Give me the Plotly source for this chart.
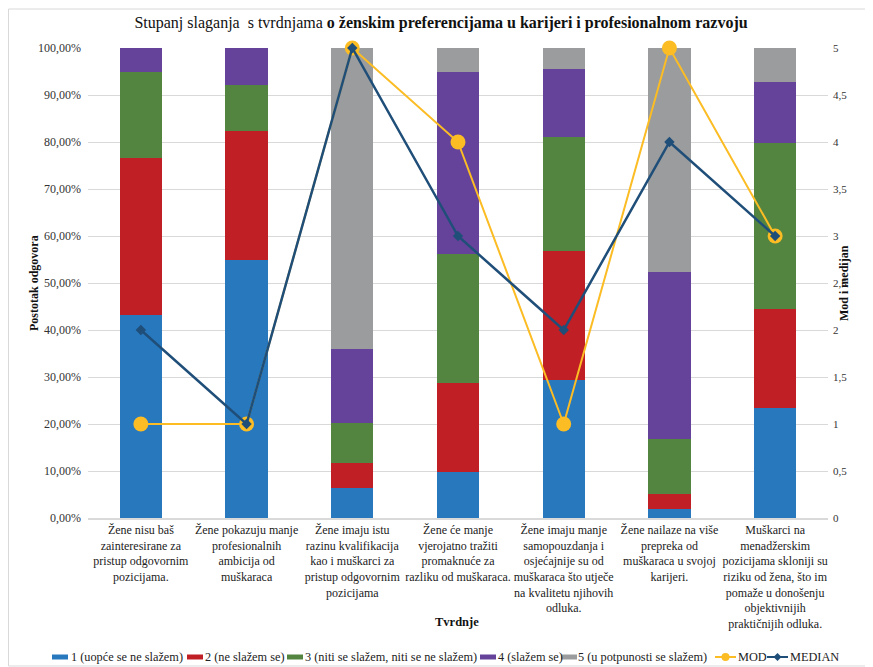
import plotly.graph_objects as go

categories = [
    "Žene nisu baš<br>zainteresirane za<br>pristup odgovornim<br>pozicijama.",
    "Žene pokazuju manje<br>profesionalnih<br>ambicija od<br>muškaraca",
    "Žene imaju istu<br>razinu kvalifikacija<br>kao i muškarci za<br>pristup odgovornim<br>pozicijama",
    "Žene će manje<br>vjerojatno tražiti<br>promaknuće za<br>razliku od muškaraca.",
    "Žene imaju manje<br>samopouzdanja i<br>osjećajnije su od<br>muškaraca što utječe<br>na kvalitetu njihovih<br>odluka.",
    "Žene nailaze na više<br>prepreka od<br>muškaraca u svojoj<br>karijeri.",
    "Muškarci na<br>menadžerskim<br>pozicijama skloniji su<br>riziku od žena, što im<br>pomaže u donošenju<br>objektivnijih<br>praktičnijih odluka.",
]

# percentages per answer level
level1 = [43.1, 54.9, 6.4, 9.7, 29.4, 1.9, 23.5]
level2 = [33.4, 27.4, 5.3, 19.1, 27.4, 3.3, 20.9]
level3 = [18.3, 9.9, 8.5, 27.4, 24.3, 11.7, 35.3]
level4 = [5.2, 7.8, 15.7, 38.6, 14.4, 35.4, 13.1]
level5 = [0.0, 0.0, 64.1, 5.2, 4.5, 47.7, 7.2]

mod = [1, 1, 5, 4, 1, 5, 3]
median = [2, 1, 5, 3, 2, 4, 3]

level_names = [
    "1 (uopće se ne slažem)",
    "2 (ne slažem se)",
    "3 (niti se slažem, niti se ne slažem)",
    "4 (slažem se)",
    "5 (u potpunosti se slažem)",
]
level_colors = ["#2878BD", "#C01F25", "#538540", "#65439A", "#9A9C9D"]
MOD_COLOR = "#FBBC24"
MED_COLOR = "#1F4E79"

FONT = "Liberation Serif, Times New Roman, serif"

# the page body adds an 8px offset, so the figure is drawn 8px smaller
OFF = 8
W, H = 873 - OFF, 667 - OFF
L, R, T, B = 88 - OFF, 45, 48 - OFF, 149
PW, PH = W - L - R, H - T - B


def px_x(px):
    # screen pixel -> paper coordinate
    return (px - OFF - L) / PW


def px_y(py):
    return (H - B - (py - OFF)) / PH


fig = go.Figure()
for name, vals, col in zip(level_names, [level1, level2, level3, level4, level5], level_colors):
    fig.add_trace(go.Bar(x=categories, y=vals, name=name, marker=dict(color=col, line=dict(width=0)),
                         width=0.4))

fig.add_trace(go.Scatter(x=categories, y=mod, name="MOD", yaxis="y2", mode="lines+markers",
                         line=dict(color=MOD_COLOR, width=2), cliponaxis=False,
                         marker=dict(symbol="circle", size=15, color=MOD_COLOR)))
fig.add_trace(go.Scatter(x=categories, y=median, name="MEDIAN", yaxis="y2", mode="lines+markers",
                         line=dict(color=MED_COLOR, width=2.5), cliponaxis=False,
                         marker=dict(symbol="diamond", size=8, color=MED_COLOR)))

# legend drawn by hand so it stays on a single compact row
leg_y = px_y(657)
LEG_FONT = dict(family=FONT, size=12.3, color="#222222")
swatch_x = [52, 187, 287, 480, 561]
text_x = [69, 203, 303, 496, 576]
shapes = []
annotations = []
for sx, tx, name, col in zip(swatch_x, text_x, level_names, level_colors):
    shapes.append(dict(type="rect", xref="paper", yref="paper", x0=px_x(sx), x1=px_x(sx + 16),
                       y0=leg_y - 2.5 / PH, y1=leg_y + 2.5 / PH, fillcolor=col, line=dict(width=0)))
    annotations.append(dict(text=name, xref="paper", yref="paper", x=px_x(tx), y=leg_y,
                            xanchor="left", yanchor="middle", showarrow=False, font=LEG_FONT))

for sx, name, col, sym in [(715, "MOD", MOD_COLOR, "circle"), (767, "MEDIAN", MED_COLOR, "diamond")]:
    shapes.append(dict(type="line", xref="paper", yref="paper", x0=px_x(sx), x1=px_x(sx + 21),
                       y0=leg_y, y1=leg_y, line=dict(color=col, width=2)))
    cx, cy = px_x(sx + 10.5), leg_y
    if sym == "circle":
        shapes.append(dict(type="circle", xref="paper", yref="paper", xsizemode="pixel", ysizemode="pixel",
                           xanchor=cx, yanchor=cy, x0=-4, x1=4, y0=-4, y1=4,
                           fillcolor=col, line=dict(width=0)))
    else:
        shapes.append(dict(type="path", xref="paper", yref="paper", xsizemode="pixel", ysizemode="pixel",
                           xanchor=cx, yanchor=cy, path="M -4 0 L 0 4 L 4 0 L 0 -4 Z",
                           fillcolor=col, line=dict(width=0)))
    annotations.append(dict(text=name, xref="paper", yref="paper", x=px_x(sx + 21), y=leg_y,
                            xanchor="left", yanchor="middle", showarrow=False, font=LEG_FONT))

annotations += [
    dict(text="<b>Tvrdnje</b>", xref="paper", yref="paper", x=px_x(457), y=px_y(631),
         showarrow=False, font=dict(family=FONT, size=12.5, color="#111111")),
    dict(text="<b>Postotak odgovora</b>", xref="paper", yref="paper", x=px_x(25), y=px_y(283),
         textangle=-90, showarrow=False, font=dict(family=FONT, size=12, color="#111111")),
    dict(text="<b>Mod i medijan</b>", xref="paper", yref="paper", x=px_x(853), y=px_y(283),
         textangle=-90, showarrow=False, font=dict(family=FONT, size=12, color="#111111")),
]

shapes.append(dict(type="rect", xref="paper", yref="paper", x0=px_x(8.5), x1=px_x(870),
                   y0=px_y(666), y1=px_y(9), line=dict(color="#D9D9D9", width=1), layer="below"))

fig.update_layout(
    barmode="stack",
    width=W, height=H,
    margin=dict(l=L, r=R, t=T, b=B),
    paper_bgcolor="white", plot_bgcolor="white",
    separators=",.",
    showlegend=False,
    font=dict(family=FONT, size=12, color="#222222"),
    title=dict(text="Stupanj slaganja  s tvrdnjama <b>o ženskim preferencijama u karijeri i profesionalnom razvoju</b>",
               x=(441 - OFF) / W, xref="container", y=1 - (22 - OFF) / H, yref="container", yanchor="middle",
               font=dict(family=FONT, size=16, color="#111111")),
    xaxis=dict(showgrid=False, showline=True, linecolor="#D9D9D9", linewidth=1.5, tickangle=0,
               automargin=False, ticks="",
               tickfont=dict(family=FONT, size=12, color="#222222")),
    yaxis=dict(range=[0, 100], dtick=10, tickformat=".2f", ticksuffix="%", automargin=False,
               gridcolor="#D9D9D9", gridwidth=1, zeroline=False, ticklabelstandoff=6,
               tickfont=dict(family=FONT, size=12, color="#333333")),
    yaxis2=dict(range=[0, 5], dtick=0.5, overlaying="y", side="right", showgrid=False, zeroline=False,
                automargin=False, ticklabelstandoff=4,
                tickfont=dict(family=FONT, size=11, color="#333333")),
    annotations=annotations,
    shapes=shapes,
)

fig.write_html("out.html")
